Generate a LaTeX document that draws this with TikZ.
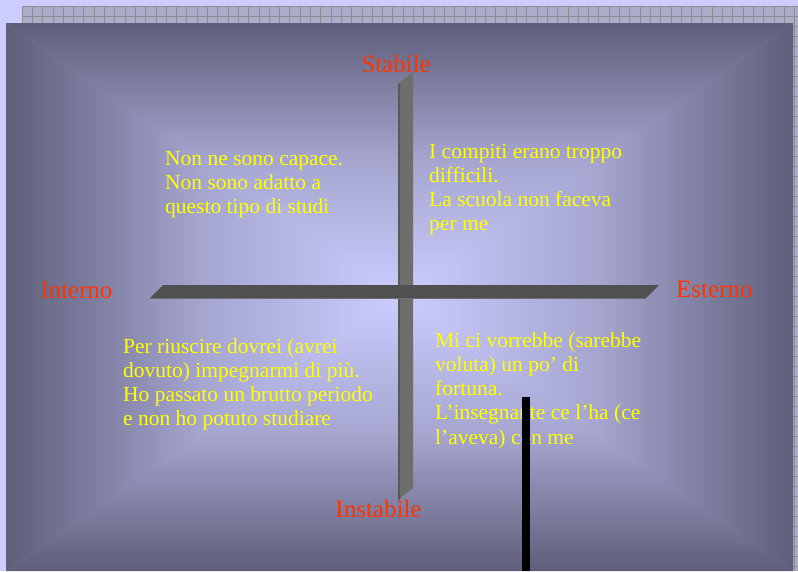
\documentclass[tikz,border=0pt]{standalone}
\usepackage{fontspec}
\setmainfont{Liberation Serif}
\usetikzlibrary{positioning}
\definecolor{bgblue}{RGB}{204,204,255}
\definecolor{gridline}{RGB}{140,140,150}
\definecolor{gridfill}{RGB}{172,172,200}
\definecolor{paneldark}{RGB}{94,94,122}
\definecolor{panellight}{RGB}{204,204,255}
\definecolor{axisred}{RGB}{255,51,0}
\definecolor{noteyellow}{RGB}{255,255,0}
\definecolor{barfront}{RGB}{110,110,110}
\definecolor{barside}{RGB}{88,88,88}
\definecolor{bardark}{RGB}{80,80,80}

\begin{document}
\begin{tikzpicture}[x=1pt,y=-1pt,
  axislabel/.style={text=axisred,font=\fontsize{25}{30}\selectfont,inner sep=0pt,anchor=base},
  note/.style={text=noteyellow,font=\fontsize{21.5}{24.3}\selectfont,align=left,inner sep=0pt,anchor=base west}]
  \useasboundingbox (0,0) rectangle (798,571);
  \fill[bgblue] (0,0) rectangle (798,571);
  \fill[gridfill] (22,6) rectangle (798,571);
  \foreach \gx in {22,32.3,...,798}
    \draw[gridline,line width=0.7pt] (\gx,6) -- (\gx,571);
  \foreach \gy in {6,16,...,571}
    \draw[gridline,line width=0.7pt] (22,\gy) -- (798,\gy);
  \fill[paneldark!45!panellight] (6,23) rectangle (793,571);
  \shade[top color=paneldark,bottom color=panellight,middle color=paneldark!35!panellight] (6,23) -- (793,23) -- (399.5,297) -- cycle;
  \shade[left color=paneldark,right color=panellight,middle color=paneldark!35!panellight] (6,23) -- (399.5,297) -- (6,571) -- cycle;
  \shade[top color=panellight,bottom color=paneldark,middle color=paneldark!35!panellight] (6,571) -- (399.5,297) -- (793,571) -- cycle;
  \shade[left color=panellight,right color=paneldark,middle color=paneldark!35!panellight] (793,23) -- (793,571) -- (399.5,297) -- cycle;
  \fill[barfront] (398,84) -- (413,72) -- (413,488) -- (398,500) -- cycle;
  \fill[barside] (398,84) -- (400,83) -- (400,499) -- (398,500) -- cycle;
  \fill[bardark] (150,298) -- (163,285) -- (659,285) -- (646,298) -- cycle;
  \draw[barfront] (150,298) -- (646,298);
  \node[axislabel] (stabile) at (396,72) {Stabile};
  \node[axislabel] (instabile) at (378.5,517) {Instabile};
  \node[axislabel,anchor=base west] (interno) at (40,298) {Interno};
  \node[axislabel,anchor=base west] (esterno) at (676,297) {Esterno};
  \node[note] (capace) at (165,213.6) {Non ne sono capace.\\Non sono adatto a\\questo tipo di studi};
  \node[note] (compiti) at (429,230.9) {I compiti erano troppo\\difficili.\\La scuola non faceva\\per me};
  \node[note] (impegno) at (123,425.9) {Per riuscire dovrei (avrei\\dovuto) impegnarmi di più.\\Ho passato un brutto periodo\\e non ho potuto studiare};
  \node[note] (fortuna) at (435,444.2) {Mi ci vorrebbe (sarebbe\\voluta) un po’ di\\fortuna.\\L’insegnante ce l’ha (ce\\l’aveva) con me};
  \fill[black] (522,397) rectangle (530,571);
\end{tikzpicture}
\end{document}
